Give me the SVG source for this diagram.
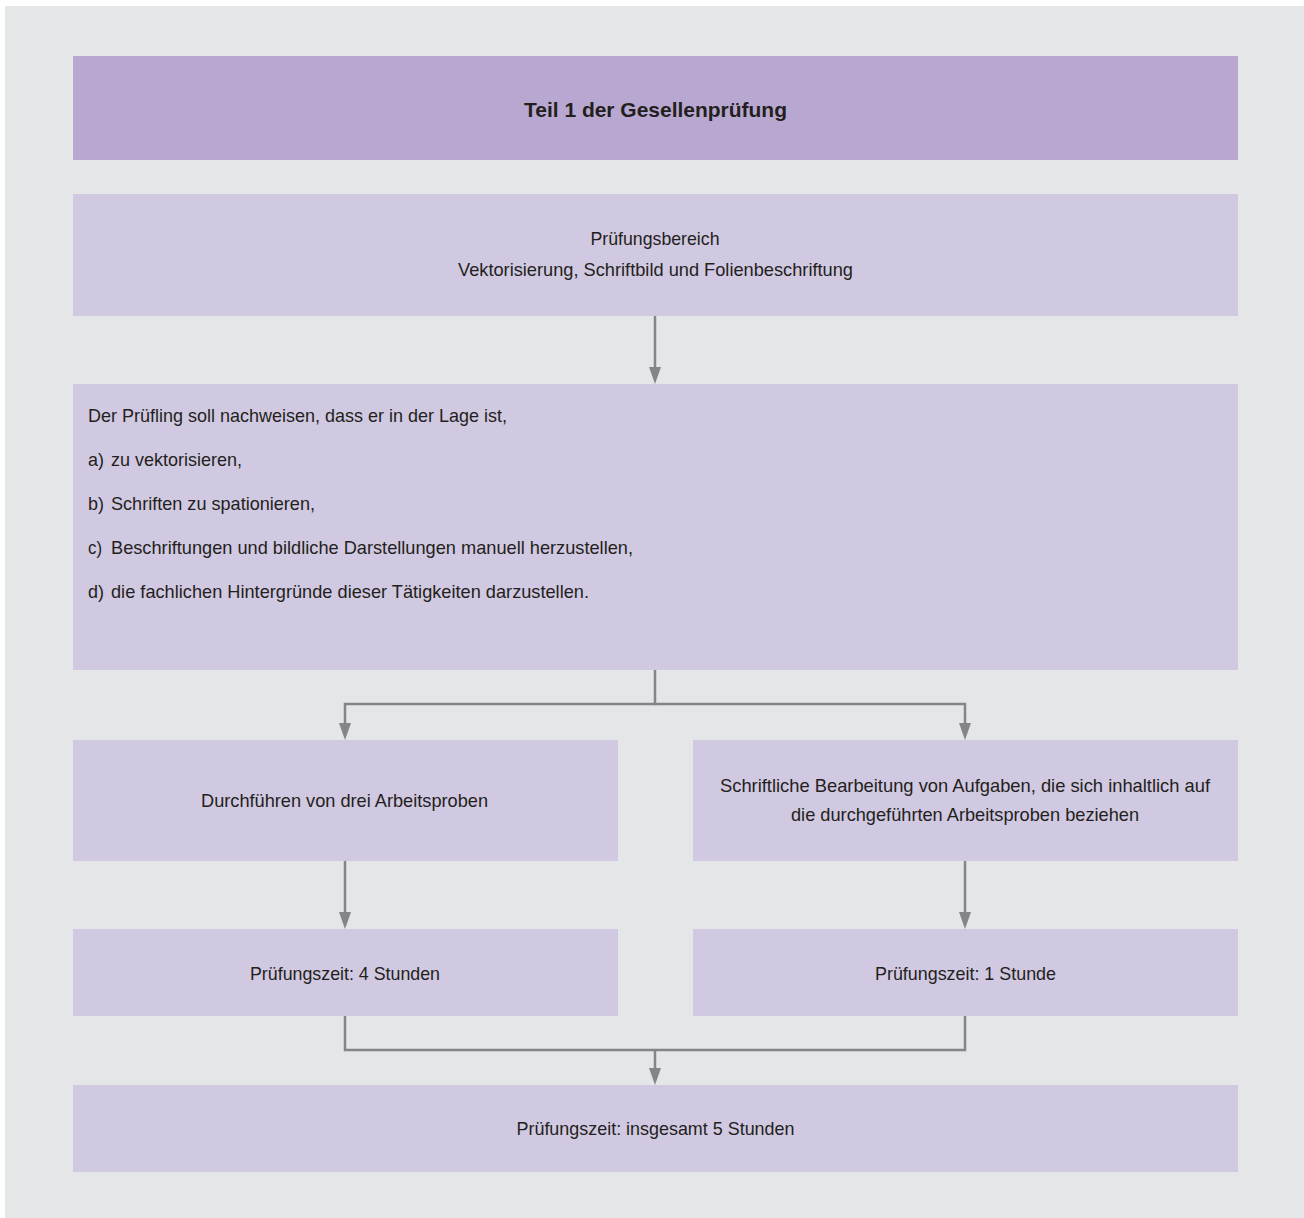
<svg xmlns="http://www.w3.org/2000/svg" width="1304" height="1218" viewBox="0 0 1304 1218">
<style>
.bg{fill:#e5e6e8}
.head{fill:#b8a8d1}
.box{fill:#d1c9e1}
text{font-family:"Liberation Sans",Arial,sans-serif;font-size:19px;fill:#231f20}
.c{text-anchor:middle}
.b{font-weight:bold;font-size:21px}
.con{fill:none;stroke:#848589;stroke-width:2.5;stroke-linejoin:miter}
</style>
<defs>
<marker id="ah" markerUnits="userSpaceOnUse" markerWidth="18" markerHeight="14" refX="0" refY="7" orient="auto" viewBox="0 0 18 14">
<path d="M0,1 L17,7 L0,13 z" fill="#848589"/>
</marker>
</defs>
<rect width="1304" height="1218" fill="#ffffff"/>
<rect class="bg" x="5" y="6" width="1299" height="1212"/>
<g id="connectors">
<path class="con" d="M655,316 V367" marker-end="url(#ah)"/>
<path class="con" d="M655,670 V704 H345 V723" marker-end="url(#ah)"/>
<path class="con" d="M655,704 H965 V723" marker-end="url(#ah)"/>
<path class="con" d="M345,861 V912" marker-end="url(#ah)"/>
<path class="con" d="M965,861 V912" marker-end="url(#ah)"/>
<path class="con" d="M345,1016 V1050 H965 V1016"/>
<path class="con" d="M655,1050 V1068" marker-end="url(#ah)"/>
</g>
<g id="title">
<rect class="head" x="73" y="56" width="1165" height="104"/>
<text class="c b" x="655.5" y="117" textLength="263" lengthAdjust="spacingAndGlyphs">Teil 1 der Gesellenprüfung</text>
</g>
<g id="bereich">
<rect class="box" x="73" y="194" width="1165" height="122"/>
<text class="c" x="655" y="245" textLength="129" lengthAdjust="spacingAndGlyphs">Prüfungsbereich</text>
<text class="c" x="655.5" y="276" textLength="395" lengthAdjust="spacingAndGlyphs">Vektorisierung, Schriftbild und Folienbeschriftung</text>
</g>
<g id="nachweis">
<rect class="box" x="73" y="384" width="1165" height="286"/>
<text x="88" y="422" textLength="419" lengthAdjust="spacingAndGlyphs">Der Prüfling soll nachweisen, dass er in der Lage ist,</text>
<text x="88" y="466" textLength="16" lengthAdjust="spacingAndGlyphs">a)</text>
<text x="111" y="466" textLength="131" lengthAdjust="spacingAndGlyphs">zu vektorisieren,</text>
<text x="88" y="510" textLength="16" lengthAdjust="spacingAndGlyphs">b)</text>
<text x="111" y="510" textLength="204" lengthAdjust="spacingAndGlyphs">Schriften zu spationieren,</text>
<text x="88" y="554" textLength="14" lengthAdjust="spacingAndGlyphs">c)</text>
<text x="111" y="554" textLength="522" lengthAdjust="spacingAndGlyphs">Beschriftungen und bildliche Darstellungen manuell herzustellen,</text>
<text x="88" y="598" textLength="16" lengthAdjust="spacingAndGlyphs">d)</text>
<text x="111" y="598" textLength="478" lengthAdjust="spacingAndGlyphs">die fachlichen Hintergründe dieser Tätigkeiten darzustellen.</text>
</g>
<g id="arbeitsproben">
<rect class="box" x="73" y="740" width="545" height="121"/>
<text class="c" x="344.5" y="807" textLength="287" lengthAdjust="spacingAndGlyphs">Durchführen von drei Arbeitsproben</text>
</g>
<g id="schriftlich">
<rect class="box" x="693" y="740" width="545" height="121"/>
<text class="c" x="965" y="792" textLength="490" lengthAdjust="spacingAndGlyphs">Schriftliche Bearbeitung von Aufgaben, die sich inhaltlich auf</text>
<text class="c" x="965" y="821" textLength="348" lengthAdjust="spacingAndGlyphs">die durchgeführten Arbeitsproben beziehen</text>
</g>
<g id="zeit4">
<rect class="box" x="73" y="929" width="545" height="87"/>
<text class="c" x="345" y="980" textLength="190" lengthAdjust="spacingAndGlyphs">Prüfungszeit: 4 Stunden</text>
</g>
<g id="zeit1">
<rect class="box" x="693" y="929" width="545" height="87"/>
<text class="c" x="965.5" y="980" textLength="181" lengthAdjust="spacingAndGlyphs">Prüfungszeit: 1 Stunde</text>
</g>
<g id="gesamt">
<rect class="box" x="73" y="1085" width="1165" height="87"/>
<text class="c" x="655.5" y="1135" textLength="278" lengthAdjust="spacingAndGlyphs">Prüfungszeit: insgesamt 5 Stunden</text>
</g>
</svg>
